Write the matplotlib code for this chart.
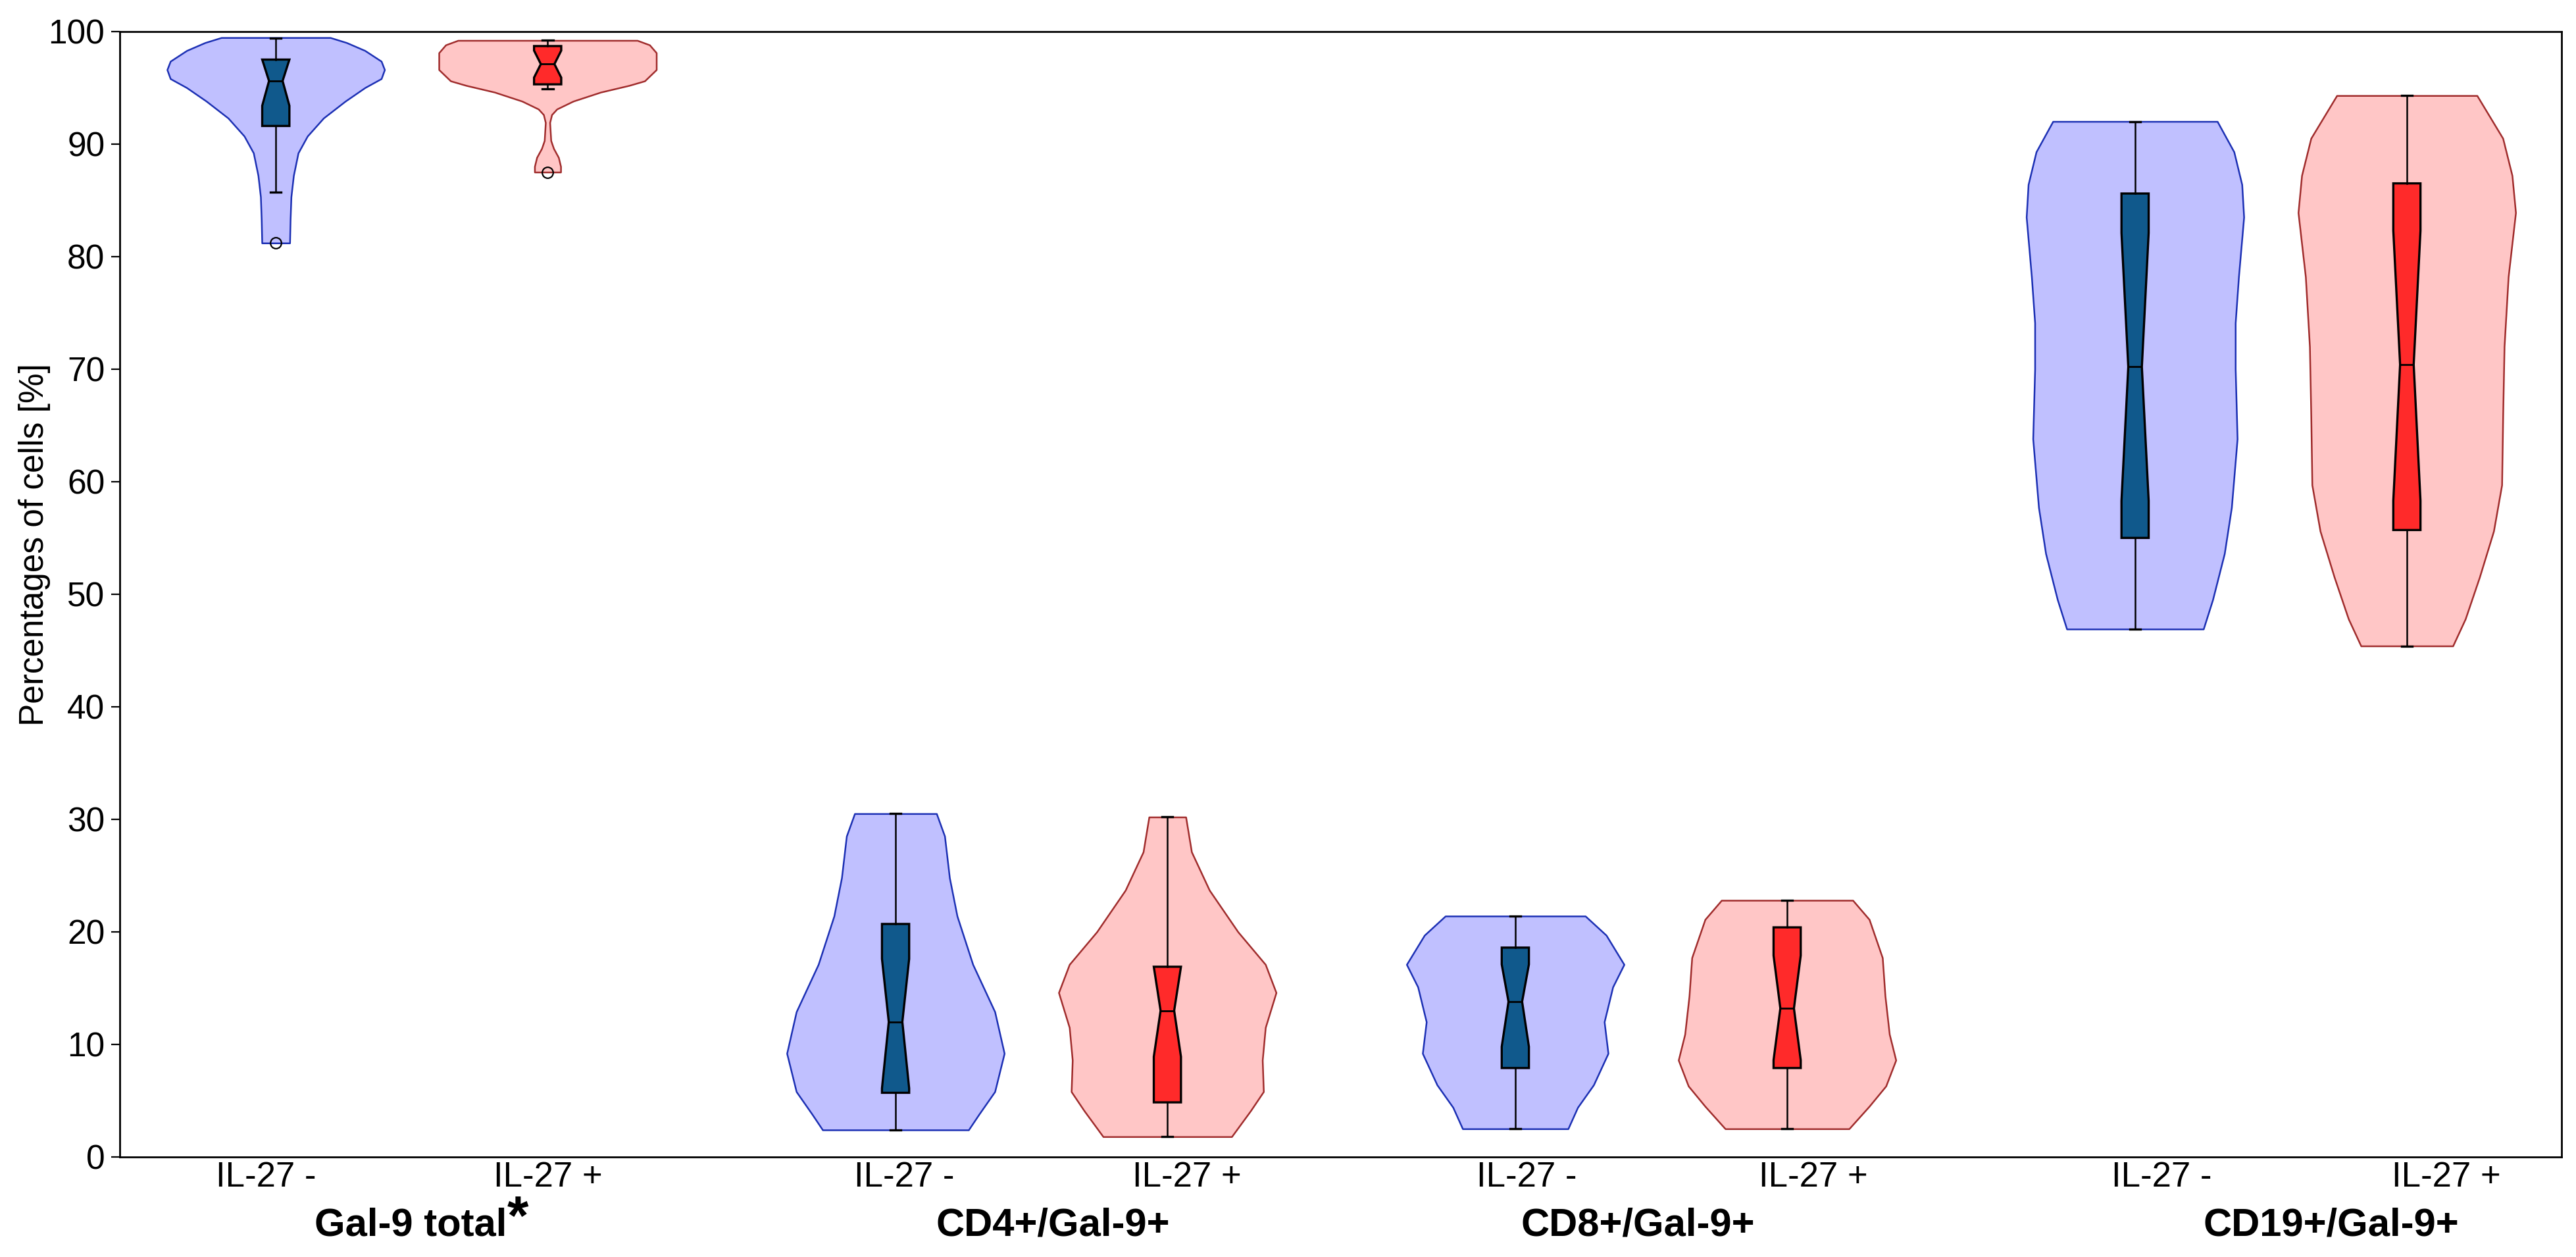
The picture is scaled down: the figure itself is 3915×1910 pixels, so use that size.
import numpy as np
import matplotlib.pyplot as plt

plt.rcParams['font.family'] = ['Liberation Sans', 'DejaVu Sans']

# violin positions (two per marker, gap between markers)
positions = [1, 2, 3.28, 4.28, 5.56, 6.56, 7.84, 8.84]
tick_pos = [0.964, 2.002, 3.312, 4.351, 5.603, 6.656, 7.937, 8.985]
tick_labels = ['IL-27 -', 'IL-27 +'] * 4
group_pos = [1.496, 3.86, 6.01, 8.56]
group_labels = ['Gal-9 total', 'CD4+/Gal-9+', 'CD8+/Gal-9+', 'CD19+/Gal-9+']

# violin outlines: level (%) and relative half width
gal9_neg_y = [81.2, 83.3, 85.3, 87.2, 89.2, 90.7, 92.3, 93.8, 95.0, 95.8, 96.6, 97.35, 98.3, 99.0, 99.45]
gal9_neg_w = [.051, .053, .056, .065, .082, .116, .175, .255, .327, .387, .399, .387, .327, .260, .200]
gal9_pos_y = [87.5, 88.0, 88.8, 89.6, 90.3, 91.9, 92.6, 93.1, 93.8, 94.6, 95.2, 95.6, 96.6, 98.1, 98.8, 99.2]
gal9_pos_w = [.048, .048, .040, .022, .012, .008, .015, .034, .094, .195, .300, .357, .400, .400, .375, .330]
cd4_neg_y = [2.4, 3.8, 5.8, 9.2, 12.9, 17.1, 21.4, 24.8, 28.5, 30.5]
cd4_neg_w = [.269, .308, .366, .401, .366, .285, .227, .199, .181, .151]
cd4_pos_y = [1.8, 4.1, 5.8, 8.6, 11.5, 14.6, 17.1, 20.0, 23.7, 27.1, 30.2]
cd4_pos_w = [.234, .303, .350, .346, .357, .396, .357, .257, .153, .088, .067]
cd8_neg_y = [2.5, 4.4, 6.4, 9.2, 12.0, 15.1, 17.1, 19.7, 21.4]
cd8_neg_w = [.192, .227, .285, .338, .324, .355, .396, .331, .255]
cd8_pos_y = [2.5, 4.5, 6.3, 8.6, 10.9, 14.3, 17.7, 21.1, 22.8]
cd8_pos_w = [.230, .305, .367, .404, .380, .364, .354, .305, .244]
cd19_neg_y = [46.9, 49.5, 53.6, 57.7, 63.8, 70.0, 74.1, 78.2, 83.5, 86.4, 89.3, 92.0]
cd19_neg_w = [.250, .284, .327, .353, .374, .367, .367, .379, .398, .391, .362, .301]
cd19_pos_y = [45.4, 47.8, 51.5, 55.6, 59.7, 65.9, 72.0, 78.2, 83.9, 87.2, 90.5, 94.3]
cd19_pos_w = [.169, .215, .267, .319, .349, .353, .358, .373, .400, .387, .353, .258]

# box statistics
q1 = [91.6, 95.3, 5.7, 4.85, 7.9, 7.9, 55.0, 55.7]
med = [95.6, 97.1, 12.0, 13.0, 13.8, 13.2, 70.2, 70.4]
q3 = [97.5, 98.7, 20.7, 16.9, 18.6, 20.4, 85.6, 86.5]
whislo = [85.7, 94.9, 2.4, 1.8, 2.5, 2.5, 46.9, 45.4]
whishi = [99.4, 99.2, 30.5, 30.2, 21.4, 22.8, 92.0, 94.3]
cilo = [93.4, 95.9, 6.1, 8.9, 9.8, 8.6, 58.3, 58.3]
cihi = [97.5, 98.3, 17.6, 16.9, 17.1, 17.9, 82.1, 82.3]
fliers = [[81.2], [87.5], [], [], [], [], [], []]

profiles = [(gal9_neg_y, gal9_neg_w), (gal9_pos_y, gal9_pos_w),
            (cd4_neg_y, cd4_neg_w), (cd4_pos_y, cd4_pos_w),
            (cd8_neg_y, cd8_neg_w), (cd8_pos_y, cd8_pos_w),
            (cd19_neg_y, cd19_neg_w), (cd19_pos_y, cd19_pos_w)]

blue_fill, blue_edge, blue_box = '#c0c0ff', '#1c30b4', '#10598c'
red_fill, red_edge, red_box = '#ffc6c6', '#a02c2c', '#ff2a2a'

fig = plt.figure(figsize=(19.575, 9.55), dpi=200)
ax = fig.add_axes([0.0465, 0.0796, 0.948, 0.8954])

vpstats = []
for y, w in profiles:
    y = np.array(y)
    w = np.array(w)
    vpstats.append({'coords': y, 'vals': w, 'mean': y.mean(), 'median': np.median(y),
                    'min': y.min(), 'max': y.max()})
vp = ax.violin(vpstats, positions=positions, widths=0.8, showmeans=False,
               showextrema=False, showmedians=False)
for i, body in enumerate(vp['bodies']):
    if i % 2 == 0:
        body.set_facecolor(blue_fill)
        body.set_edgecolor(blue_edge)
    else:
        body.set_facecolor(red_fill)
        body.set_edgecolor(red_edge)
    body.set_alpha(1)
    body.set_linewidth(0.9)

bstats = []
for i in range(len(positions)):
    bstats.append({'q1': q1[i], 'med': med[i], 'q3': q3[i], 'whislo': whislo[i],
                   'whishi': whishi[i], 'cilo': cilo[i], 'cihi': cihi[i],
                   'fliers': fliers[i]})
bp = ax.bxp(bstats, positions=positions, widths=0.1, capwidths=0.04,
            shownotches=True, patch_artist=True,
            boxprops=dict(edgecolor='black', linewidth=1.2),
            whiskerprops=dict(color='black', linewidth=0.9),
            capprops=dict(color='black', linewidth=1.2),
            medianprops=dict(color='black', linewidth=1.0),
            flierprops=dict(marker='o', markerfacecolor='none',
                            markeredgecolor='black', markersize=6, markeredgewidth=0.8))
for i, box in enumerate(bp['boxes']):
    box.set_facecolor(blue_box if i % 2 == 0 else red_box)

ax.set_xlim(0.426, 9.41)
ax.set_ylim(0, 100)
ax.set_yticks(np.arange(0, 101, 10))
ax.set_xticks(tick_pos)
ax.set_xticklabels(tick_labels)
ax.tick_params(axis='x', length=0, pad=2, labelsize=19)
ax.tick_params(axis='y', length=4.7, width=0.8, pad=3.5, labelsize=18.5)
for sp in ax.spines.values():
    sp.set_linewidth(1.0)

ax.set_ylabel('Percentages of cells [%]', fontsize=18.5)
ax.yaxis.set_label_coords(-0.0283, 0.544)

grp_texts = []
for x, lab in zip(group_pos, group_labels):
    t = ax.text(x, -0.070, lab, transform=ax.get_xaxis_transform(), ha='center',
                va='baseline', fontsize=21.5, fontweight='bold')
    grp_texts.append(t)
ax.annotate('*', xy=(1.0, 0.66), xycoords=grp_texts[0], ha='left', va='center',
            fontsize=30, fontweight='bold')

fig.savefig('out.png', dpi=200)
